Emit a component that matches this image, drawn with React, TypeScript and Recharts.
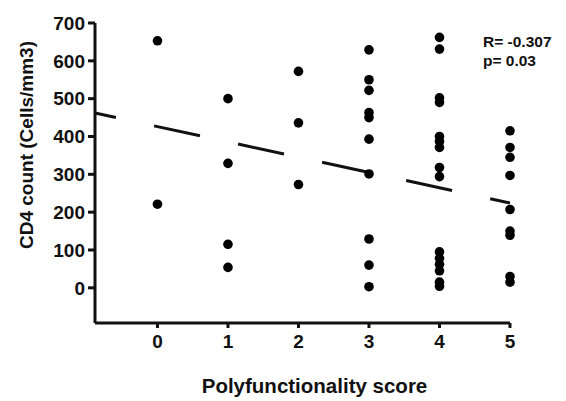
import { ScatterChart, Scatter, XAxis, YAxis, ReferenceLine, Label } from 'recharts'

// CD4 count per polyfunctionality score
const score0 = [653, 221]
const score1 = [500, 329, 115, 54]
const score2 = [572, 436, 273]
const score3 = [629, 550, 522, 463, 450, 393, 301, 129, 60, 3]
const score4 = [662, 631, 502, 490, 400, 387, 371, 318, 294, 95, 78, 62, 45, 15, 4]
const score5 = [415, 371, 345, 297, 207, 150, 139, 30, 15]

const xTicks = [0, 1, 2, 3, 4, 5]
const yTicks = [0, 100, 200, 300, 400, 500, 600, 700]

// regression line end points
const fitX = [-0.886, 5]
const fitY = [462, 224]

const stats = ['R= -0.307', 'p= 0.03']

const groups = [score0, score1, score2, score3, score4, score5]
const points = groups.flatMap((vals, score) => vals.map(cd4 => ({ score, cd4 })))

const FONT = '"Liberation Sans", Arial, sans-serif'

const Dot = (props: any) => <circle cx={props.cx} cy={props.cy} r={4.8} fill="#000" />

const YTitle = ({ viewBox }: any) => {
  const x = viewBox.x + 26
  const y = viewBox.y + viewBox.height / 2 - 28
  return (
    <text
      x={x}
      y={y}
      transform={`rotate(-90 ${x} ${y})`}
      textAnchor="middle"
      dominantBaseline="central"
      fontFamily={FONT}
      fontWeight="bold"
      fontSize={19}
      fill="#111"
    >
      CD4 count (Cells/mm3)
    </text>
  )
}

export default function App() {
  return (
    <div style={{ position: 'absolute', left: 0, top: 0, width: 566, height: 401, background: '#fff' }}>
      <ScatterChart width={566} height={401} margin={{ top: 23, right: 56, bottom: 0, left: 0 }}>
        <XAxis
          type="number"
          dataKey="score"
          domain={[fitX[0], 5]}
          ticks={xTicks}
          height={78}
          tickSize={5}
          tickMargin={7}
          stroke="#111"
          strokeWidth={3}
          tick={{ fontSize: 19, fontWeight: 'bold', fill: '#111', fontFamily: FONT }}
        >
          <Label
            value="Polyfunctionality score"
            position="insideBottom"
            offset={8}
            dx={12}
            style={{ fontSize: 20.5, fontWeight: 'bold', fill: '#111', fontFamily: FONT }}
          />
        </XAxis>
        <YAxis
          type="number"
          dataKey="cd4"
          domain={[-93, 700]}
          ticks={yTicks}
          width={95}
          tickSize={7}
          tickMargin={3}
          stroke="#111"
          strokeWidth={3}
          tick={{ fontSize: 19, fontWeight: 'bold', fill: '#111', fontFamily: FONT }}
        >
          <Label content={<YTitle />} />
        </YAxis>
        <ReferenceLine
          segment={[{ x: fitX[0], y: fitY[0] }, { x: fitX[1], y: fitY[1] }]}
          stroke="#111"
          strokeWidth={3}
          strokeDasharray="47 39"
          strokeDashoffset={25.6}
        />
        <Scatter data={points} shape={<Dot />} isAnimationActive={false} />
      </ScatterChart>
      <div
        style={{
          position: 'absolute',
          left: 483,
          top: 32,
          fontFamily: FONT,
          fontWeight: 'bold',
          fontSize: 15.5,
          lineHeight: '19px',
          color: '#111',
        }}
      >
        {stats.map(s => (
          <div key={s}>{s}</div>
        ))}
      </div>
    </div>
  )
}
